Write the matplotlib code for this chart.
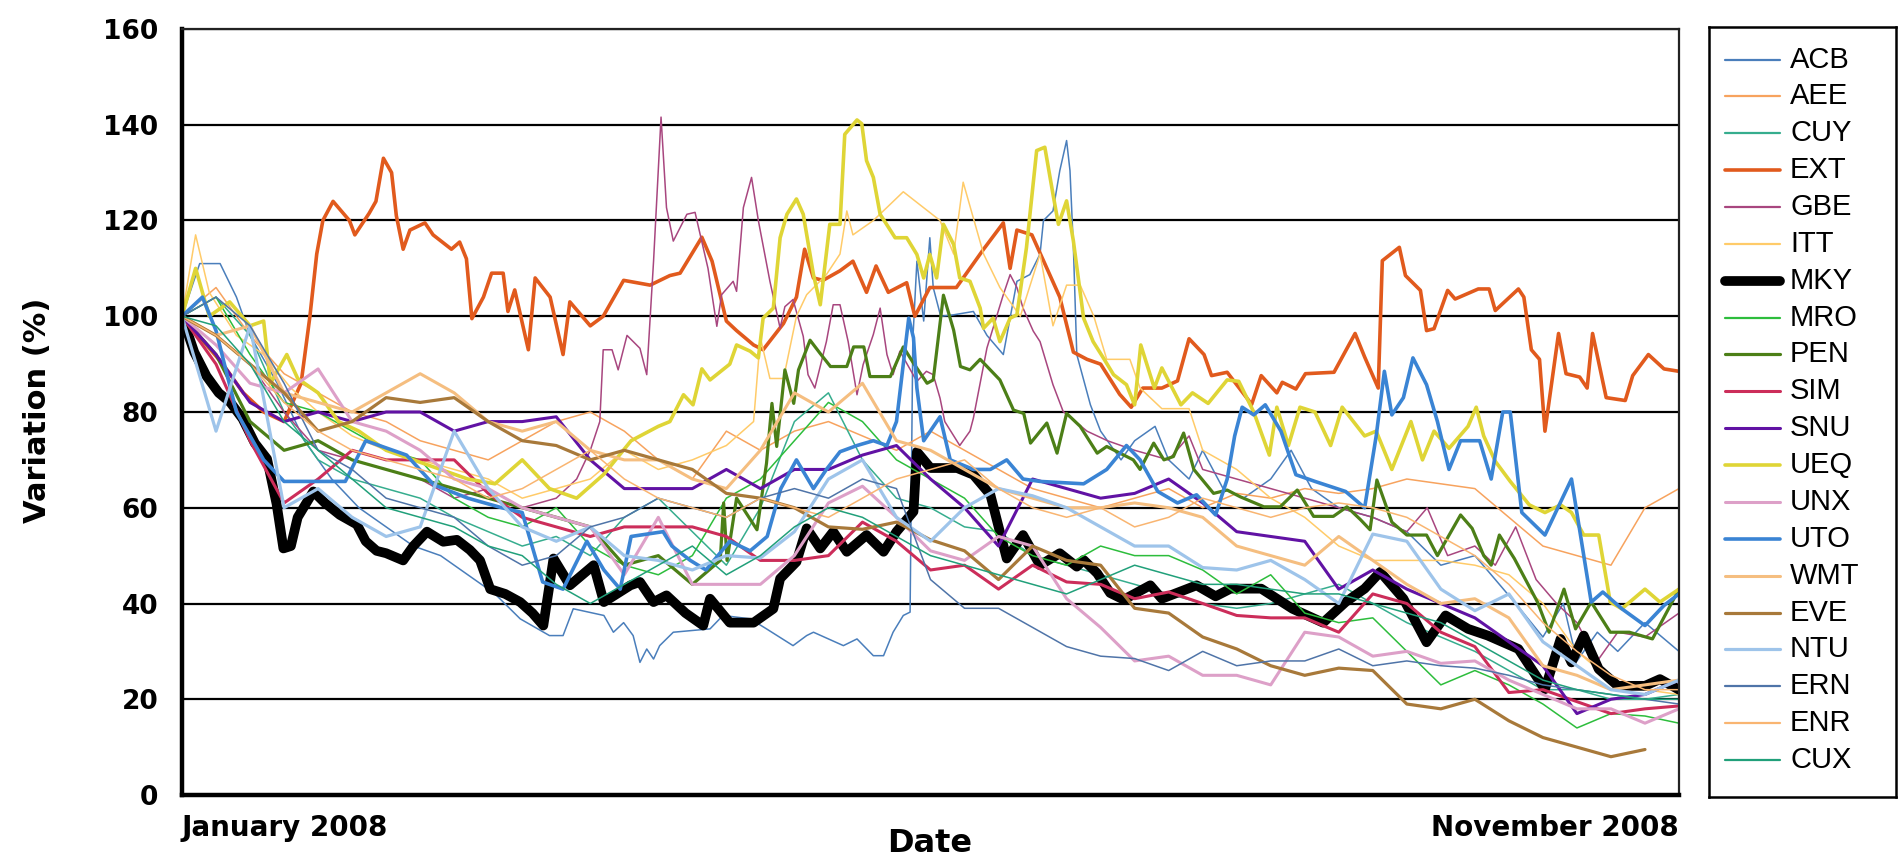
import numpy as np
import matplotlib.pyplot as plt

# Trading-day index from early January (0) to late November 2008 (220)
days = np.arange(0, 221, 5)

# --- series ----------------------------------------------------------------
# irregular series keep their own day breakpoints
acb_days = [0, 2.6, 5.6, 8, 10, 14, 18, 22, 26, 30, 34, 38, 42, 46, 49.7, 54, 56, 57.5, 62, 63.4,
            64.9, 66.3, 67.3, 68.3, 69.3, 70.2, 72.2, 77.6, 79.5, 83.5, 85.9, 89.8, 91.8, 92.8, 97.2, 99.2,
            101.6, 103.1, 104.5, 106, 107, 107.4, 108, 109, 109.9, 110.4, 111.5, 113.4, 116.3, 118.3,
            120.7, 122.7, 124.6, 126.1, 126.6, 128, 129, 130, 130.5, 131, 131.5, 133.5, 135, 138, 140,
            143, 145, 148, 150, 153, 156, 160, 163, 166, 170, 175, 180, 185, 190, 193, 196, 200, 203,
            205, 208, 211, 215, 220]
acb = [100, 111, 111, 104, 96, 86, 74, 66, 60, 56, 52, 50, 46, 42, 36.8, 33.3, 33.3, 38.9, 37.5, 34,
       36, 33.3, 27.7, 30.5, 28.4, 31.2, 34, 34.7, 37.5, 36.8, 34.7, 31.2, 33.3, 34, 31.2, 32.6,
       29.1, 29.1, 34, 37.5, 38.2, 95, 111.5, 99, 116.4, 106, 100, 100.3, 101, 96,
       92, 107.3, 108.7, 113, 120, 122, 130.4, 136.7, 130.4, 114.3, 92, 81.5, 76, 70, 74,
       77, 70, 66, 72, 64, 62, 66, 72, 64, 60, 58, 55, 48, 50, 45, 40, 33, 40,
       28, 34, 30, 36, 30]

ext_days = [0, 3, 6, 9, 12, 15, 17.5, 18.8, 19.8, 20.7, 22.2, 24.6, 25.4, 27.5, 28.5, 29.6, 30.8, 31.5,
            32.5, 33.5, 35.7, 36.9, 39.6, 40.8, 41.8, 42.6, 44.3, 45.5, 47.2, 47.9, 48.9, 50.9, 51.9,
            54.1, 56, 57, 60, 61.9, 64.9, 68.8, 71.7, 73.2, 76.4, 77.9, 80, 81.5, 84, 85.4, 88.4, 90.3,
            91.5, 92.8, 94.2, 96.7, 98.6, 100.6, 102, 103.8, 106.5, 107.7, 109.9, 113.8, 117.8, 120.7,
            121.7, 122.7, 124.9, 129, 131, 133, 135, 137.8, 139.5, 141.2, 144, 146.3, 148, 150.2, 151.3,
            153.6, 157.2, 158.6, 160.9, 161.7, 163.7, 165.1, 169.3, 172.4, 173.8, 175.8, 176.4, 178.9,
            179.8, 182, 182.9, 184, 186, 187.1, 190.5, 192.1, 193, 196.4, 197.2, 198.3, 199.5, 200.3,
            202.3, 203.4, 205.4, 206.5, 207.3, 209.3, 212.1, 213.2, 215.5, 217.8, 220]
ext = [100, 95, 90, 84, 80, 78, 86, 100, 113, 120, 124, 120, 117, 121.5, 124, 133, 130, 121,
       114, 118, 119.5, 117, 114, 115.5, 112, 99.5, 104, 109, 109, 101, 105.5, 93, 108,
       104, 92, 103, 98, 100, 107.5, 106.5, 108.5, 109, 116.5, 111.5, 99, 97, 94, 93, 98.5, 104,
       114, 108, 107.5, 109.5, 111.5, 105, 110.5, 105, 107, 100, 106, 106, 114, 119.5,
       110, 118, 117, 104, 92.5, 91, 90, 83.7, 81, 85, 85, 86.5, 95.3, 92, 87.6,
       88.3, 81.6, 87.6, 84, 86.2, 84.8, 88, 88.3, 96.4, 91.5, 85, 111.6, 114.4,
       108.5, 105.4, 97, 97.4, 105.4, 103.6, 105.7, 105.7, 101.2, 105.7, 104, 93, 91, 76,
       96.4, 88, 87.3, 85, 96.4, 83, 82.4, 87.6, 92, 89, 88.5]

gbe_days = [0, 5, 10, 15, 20, 25, 30, 35, 40, 45, 50, 55, 58, 60, 61.4, 61.9, 63.2, 64.1, 65.4, 67.3,
            68.3, 69.3, 70.4, 71.2, 72.2, 74.2, 75.4, 77.3, 78.6, 79.3, 81, 81.5, 82.5, 83.7, 84.7,
            86.4, 87.9, 88.6, 89.8, 91.3, 92, 93, 94.7, 95.7, 96.7, 97.9, 99.2, 100.1, 101.6, 102.6,
            103.6, 104.5, 105.5, 108, 109.4, 110.4, 111.4, 112.1, 114.3, 115.8, 116.3, 118.3, 120.7,
            121.7, 122.7, 123.6, 125.1, 126.1, 128, 129.5, 133, 136, 140, 145, 148, 150, 155, 160,
            165, 170, 175, 180, 183, 186, 190, 193, 196, 199, 202, 205, 208, 211, 215, 220]
gbe = [100, 96, 90, 80, 72, 70, 68, 66, 62, 64, 60, 62, 66, 72, 78, 93, 93, 88.8, 96, 93.3,
       87.8, 111.5, 141.6, 122.7, 115.7, 121.3, 121.7, 110, 97.9, 104.5, 107.3, 105.2, 122.7, 129, 120,
       107.3, 97.5, 102, 103.5, 95.8, 87.8, 85, 94.7, 102.4, 102.4, 94.7, 83.6, 89.9, 96.2, 101.7,
       92, 87.8, 92.7, 86.4, 88.5, 87.8, 82.9, 78, 73, 76, 78.7, 93.4, 104.5,
       108.7, 106, 101.7, 96.9, 94.7, 85.7, 80.1, 76, 74, 72, 70, 75, 68, 66, 64,
       62, 60, 58, 55, 60, 50, 52, 48, 56, 45, 40, 36, 28, 34, 33, 38]

itt_days = [0, 2, 4, 8, 12, 16, 20, 25, 30, 35, 40, 45, 50, 55, 60, 65, 70, 75, 80, 84, 85, 86.4,
            88.4, 90.3, 91.8, 94.7, 96.7, 97.7, 98.6, 101.6, 106, 111.4, 113.4, 114.8, 116.3, 117.8,
            120.2, 123.2, 126.1, 128, 130, 132, 134, 135.9, 139.3, 140.8, 144, 148, 150, 155, 160,
            165, 170, 175, 180, 185, 190, 195, 200, 205, 210, 215, 220]
itt = [100, 117, 105, 96, 92, 85, 80, 75, 72, 70, 68, 66, 62, 64, 66, 72, 68, 70, 73, 78, 95.5, 87,
       87, 100, 104.5, 108.7, 113, 122, 117, 120, 126, 120, 113, 128, 120.5, 113,
       106, 100, 113, 98, 106.5, 106.5, 100, 91, 91, 85, 80.7, 80.7, 72, 68, 62,
       58, 52, 49, 49, 49, 48, 46, 40, 30, 24, 22, 21]

mky_days = [0, 1.8, 3.6, 5.4, 7.1, 8.9, 10.7, 12.5, 13.9, 14.9, 16, 17, 19.3, 21, 23.2, 25.7, 27, 28.6,
            30, 32.5, 34, 36, 38.4, 40.4, 42.3, 43.8, 45.3, 47.5, 49.7, 51.5, 53.1, 54.6, 57, 60.5, 62,
            65.9, 67.3, 69.3, 71.2, 74, 76.6, 77.6, 80.5, 84, 86.9, 87.9, 90.3, 91.8, 93.8, 95.7,
            97.7, 100.6, 103.1, 105, 107.5, 108, 110, 113.9, 116.3, 118.8, 121.2, 123.6, 126.1, 129,
            131.5, 132.5, 134.5, 136.4, 138.4, 142.3, 144, 149.1, 151.9, 154.1, 158.6, 163.2, 167.7,
            171, 173.8, 176.1, 179.5, 182.9, 185.7, 189, 191.9, 196.4, 200.3, 202.6, 204.2, 206,
            208.2, 211, 215, 217.2, 220]
mky = [100, 92.5, 87.5, 84, 82, 78.6, 73.5, 70.2, 60.8, 51.5, 52, 58, 63.4, 61, 58.5, 56.5, 53, 51,
       50.5, 49, 52, 55, 52.9, 53.3, 51.2, 49, 43, 42, 40.3, 38, 35.4, 49.4, 43.8, 48, 40.3,
       43.8, 44.5, 40.3, 41.7, 38, 35.4, 41, 36, 36, 38.9, 45.2, 48.7, 55.7, 51.5, 55,
       50.8, 54.3, 50.8, 55, 59.2, 71.7, 68.3, 68.3, 66.9, 62.7, 49.4, 54.3, 48, 50.5,
       47.7, 49.1, 46.3, 42.2, 40.8, 43.8, 41, 43.8, 41.5, 43.1, 43.1, 38.9, 36,
       40.3, 43.1, 46.6, 41, 31.9, 37.5, 34.7, 33.3, 30.5, 22.1, 32.6, 27.7, 33.3,
       26.3, 22.8, 22.8, 24.2, 22]

pen_days = [0, 5, 10, 15, 20, 25, 30, 35, 40, 45, 50, 55, 60, 65, 70, 75, 79.1, 79.6, 80.1, 81.5,
            84.5, 85.9, 86.7, 87.4, 88.6, 89.9, 90.6, 92.3, 93.8, 95.3, 97.7, 98.7, 100.2, 101.1,
            104.1, 106, 107.5, 109.5, 110.4, 111.9, 113.4, 114.4, 115.8, 117.3, 120.2, 122.2, 123.7,
            124.7, 127.1, 128.6, 130, 132, 134.5, 135.9, 139.8, 140.8, 142.8, 144.3, 145.7, 147.2,
            148.7, 151.6, 153.6, 155.5, 159, 161.4, 163.9, 166.3, 169.2, 171.2, 173.2, 174.6, 175.6,
            177.8, 180, 182.9, 184.5, 187.9, 189.6, 191.3, 192.4, 193.6, 195.8, 199.2, 200.9, 203.1,
            204.8, 207.1, 209.9, 212.7, 216.1, 220]
pen = [100, 92, 78, 72, 74, 70, 68, 66, 64, 62, 60, 58, 56, 48, 50, 44, 49, 61, 49, 62,
       55.4, 69.3, 81.8, 72.8, 88.8, 81.8, 88.8, 95, 92.2, 89.5, 89.5, 93.6, 93.6, 87.4,
       87.4, 93.6, 90.2, 86, 86.7, 104.4, 97.1, 89.5, 88.8, 91, 86.7, 80.4, 79.7,
       73.5, 77.7, 71.4, 79.7, 77, 71.4, 72.8, 70, 68, 73.5, 70, 70.7, 75.6,
       68, 63, 63.7, 62.3, 60.2, 60.2, 63.7, 58.2, 58.2, 60.2, 57.5, 55.4, 65.8,
       57, 54.3, 54.3, 50, 58.5, 55.7, 50, 48, 54.3, 49.4, 40.3, 34, 43,
       34.7, 40.3, 34, 34, 32.6, 43]

ueq_days = [0, 2, 4, 7, 10, 12, 13, 15.4, 17, 20, 23, 26, 30, 34, 38, 42, 46, 50, 54, 58, 62, 66, 70,
            71.7, 73.7, 75.1, 76.4, 77.6, 80.5, 81.5, 83.5, 84.7, 85.4, 86.9, 87.9, 88.9, 90.3, 91.3,
            92.8, 93.8, 95.2, 96.7, 97.4, 99.2, 99.9, 100.6, 101.6, 102.6, 104.8, 106.5, 108, 109,
            109.9, 110.9, 111.9, 113.4, 114.3, 115.8, 117.3, 117.8, 119.2, 120.2, 121.7, 122.7, 124.1,
            125.6, 126.8, 128, 128.8, 130, 131, 132.5, 133.9, 135.4, 136.9, 138.8, 140, 140.9, 142.9,
            144, 146.8, 148.5, 150.8, 153.6, 155.3, 157.5, 159.8, 160.9, 162.6, 164.3, 166.5, 168.8,
            170.5, 173.8, 175.5, 177.8, 180.6, 182.3, 184, 186.2, 189, 190.2, 191.3, 193, 195.2, 198,
            200.3, 202.6, 204.2, 206, 208.2, 209.9, 211.6, 215, 217.2, 220]
ueq = [100, 110, 100, 103, 98, 99, 86, 92, 87, 84, 78, 76, 72, 70, 68, 66, 65, 70, 64, 62, 67, 74, 77,
       78, 83.6, 81.5, 89, 86.7, 90, 94, 92.7, 91.3, 99.6, 101.7, 116.4, 121.3, 124.5, 121.3,
       108.7, 102.4, 119.2, 119.2, 138, 141, 140.2, 132.5, 129, 121.3, 116.4, 116.4, 112.9, 108,
       112.9, 108, 119.2, 115, 108, 107.3, 101.7, 97.5, 99.6, 94.7, 99.6, 100.3, 114.3,
       134.6, 135.3, 125.5, 119.2, 124.1, 115.7, 99.6, 94.7, 91.3, 87.8, 85.7, 81.5, 94, 85,
       89.2, 81.5, 84, 81.8, 86.7, 86.4, 80, 71, 81, 73, 81, 80, 73,
       81, 75, 76, 68, 78, 70, 76, 72.4, 77, 81, 75, 69.7, 65.5, 60.6,
       59, 60.6, 59, 54.3, 54.3, 40.3, 38.9, 43, 40.3, 43]

uto_days = [0, 3, 5, 8, 12, 15, 24, 27, 33, 37, 42, 47, 50, 53, 56, 59.5, 62, 64.4, 66, 70.7, 72,
            74.7, 77, 80.5, 83.5, 86, 88, 90.3, 92.8, 94.7, 96.7, 99.2, 101.6, 103.6, 105, 106, 106.8,
            107.5, 108, 109, 111.4, 112.9, 116.3, 118.8, 121.2, 123.6, 126.1, 132.5, 135.9, 138.8,
            140.8, 143.4, 146.3, 149.1, 151.9, 153.6, 154.7, 155.8, 157.5, 159.2, 161.5, 163.7, 166.5,
            171, 173.8, 175.5, 176.7, 177.8, 179.5, 180.9, 182.9, 184.5, 186.2, 187.9, 190.7, 192.4,
            194.1, 195.2, 196.9, 200.3, 204.2, 207.1, 208.8, 211.6, 215, 217.8, 220]
uto = [100, 104, 97, 80, 70, 65.5, 65.5, 74, 71, 64.8, 62, 60, 59, 44.5, 43, 53, 47, 43, 54, 55, 52,
       49, 47, 53, 51, 54, 64, 70, 64, 68, 71.7, 73, 74, 73, 78, 90, 99.6,
       95.5, 85, 74, 79, 70, 68, 68, 70, 66, 65.5, 65, 68, 73,
       70, 63.4, 61, 62.7, 58.5, 66, 75, 81, 79.4, 81.5, 76, 66.9, 65.5,
       63.4, 60, 75, 88.5, 79.4, 83, 91.3, 85.7, 78, 68, 74, 74, 66,
       80, 80, 59, 54.3, 66, 40.3, 42.4, 38.9, 35.4, 39.6, 42]

# tangled series on the regular 5-day grid
aee = [100, 106, 96, 88, 84, 80, 78, 74, 72, 70, 74, 78, 80, 76, 70, 66, 76, 72, 76, 78,
       75, 72, 76, 72, 68, 64, 62, 60, 62, 64, 60, 63, 62, 64, 63, 64, 66, 65, 64, 58,
       52, 50, 48, 60, 64]
cuy = [100, 104, 96, 80, 70, 66, 64, 62, 58, 55, 52, 54, 50, 58, 62, 55, 48, 60, 78, 84,
       70, 62, 60, 56, 55, 50, 48, 46, 44, 42, 40, 39, 40, 42, 44, 40, 36, 33, 30, 26,
       22, 22, 20, 20, 21]
mro = [100, 104, 92, 82, 80, 76, 72, 70, 62, 58, 56, 60, 52, 48, 46, 50, 62, 66, 74, 82,
       78, 70, 66, 62, 54, 50, 48, 52, 50, 50, 47, 42, 46, 38, 36, 37, 30, 23, 26, 23,
       19, 14, 17, 16.5, 15]
sim = [100, 90, 74, 61, 66, 72, 70, 70, 70, 63, 58, 56, 54, 56, 56, 56, 54, 49, 49, 50,
       57, 53, 47, 48, 43, 48, 44.5, 44, 41, 42.4, 40, 37.5, 37, 37, 34, 42, 40, 34, 31, 21.4,
       22, 19.5, 17, 18, 18.6]
snu = [100, 92, 82, 78, 80, 78, 80, 80, 76, 78, 78, 79, 70, 64, 64, 64, 68, 64, 68, 68,
       71, 73, 66, 60, 52, 66, 64, 62, 63, 66, 61, 55, 54, 53, 43, 47, 43, 40, 37, 32,
       27, 17, 20, 21, 24]
unx = [100, 94, 86, 84, 89, 78, 76, 72, 66, 64, 60, 58, 56, 46, 58, 44, 44, 44, 50, 61,
       64.5, 58, 51, 49, 54, 52, 41, 35, 28, 29, 25, 25, 23, 34, 33, 29, 30, 27.5, 28, 24,
       21, 18, 18, 15, 18]
wmt = [100, 96, 98, 84, 82, 80, 84, 88, 84, 78, 76, 78, 72, 70, 70, 66, 64, 72, 84, 80,
       86, 74, 72, 68, 64, 62, 60, 60, 61, 60, 58, 52, 50, 48, 54, 49, 44, 40, 41, 37,
       27, 25, 22, 23, 24]
eve = [100, 96, 90, 84, 76, 78, 83, 82, 83, 78, 74, 73, 70, 72, 70, 68, 63, 62, 60, 56,
       55.5, 57, 53.3, 51, 45, 52, 49, 48, 39, 38, 33, 30.5, 27, 25, 26.5, 26, 19, 18, 20, 15.5,
       12, 10, 8, 9.5, np.nan]
ntu = [100, 76, 98, 60, 64, 58, 54, 56, 76, 64, 56, 53, 56, 50, 49, 47, 50, 49.5, 55, 66,
       70, 58, 53, 60, 64, 62.5, 60, 56, 52, 52, 47.5, 47, 49, 45, 40, 54.5, 53, 43, 38.5, 42,
       32, 27, 22, 21, 24]
ern = [100, 104, 98, 86, 72, 68, 62, 60, 58, 52, 48, 50, 56, 58, 62, 60, 58, 62, 64, 62,
       66, 64, 45, 39, 39, 35, 31, 29, 28.5, 26, 30, 27, 28, 28, 30.5, 27, 28, 27, 26.5, 25,
       23, 22, 21, 20, 19]
enr = [100, 96, 90, 82, 76, 72, 70, 68, 66, 62, 64, 68, 72, 66, 62, 60, 58, 62, 60, 58,
       62, 66, 68, 70, 64, 60, 58, 60, 56, 58, 62, 60, 58, 60, 61, 60, 58, 54, 50, 44,
       36, 30, 25, 22, 22]
cux = [100, 98, 90, 78, 72, 66, 60, 58, 56, 52, 50, 44, 40, 44, 48, 52, 46, 50, 56, 60,
       58, 54, 50, 48, 46, 44, 42, 45, 48, 46, 44, 44, 43, 42, 42, 40, 38, 36, 32, 28,
       24, 22, 21, 20, 20]

# name, x, y, colour, line width (pt)
series = [
    ("ACB", acb_days, acb, "#4A7EBB", 1.1),
    ("AEE", days, aee, "#F7A35E", 1.1),
    ("CUY", days, cuy, "#36AD8E", 1.1),
    ("EXT", ext_days, ext, "#E15A1D", 2.6),
    ("GBE", gbe_days, gbe, "#A8467F", 1.1),
    ("ITT", itt_days, itt, "#FFCB69", 1.1),
    ("MKY", mky_days, mky, "#000000", 7.0),
    ("MRO", days, mro, "#2DBD3C", 1.1),
    ("PEN", pen_days, pen, "#4C7F17", 2.3),
    ("SIM", days, sim, "#CC2D5A", 2.2),
    ("SNU", days, snu, "#6112A4", 2.2),
    ("UEQ", ueq_days, ueq, "#DFD536", 2.6),
    ("UNX", days, unx, "#DDA0C8", 2.2),
    ("UTO", uto_days, uto, "#3A84D4", 2.6),
    ("WMT", days, wmt, "#F5BE80", 2.2),
    ("EVE", days, eve, "#A8793A", 2.3),
    ("NTU", days, ntu, "#9EC4EA", 2.3),
    ("ERN", days, ern, "#4F74A8", 1.1),
    ("ENR", days, enr, "#F9B571", 1.1),
    ("CUX", days, cux, "#21A07A", 1.1),
]

W, H = 1903, 864
fig = plt.figure(figsize=(W / 100, H / 100), dpi=100)
ax = fig.add_axes([182 / W, 69 / H, 1497 / W, 766 / H])

for name, x, y, c, lw in series:
    ax.plot(x, y, color=c, lw=lw, solid_joinstyle="round", solid_capstyle="round")

ax.set_xlim(0, 220)
ax.set_ylim(0, 160)
ax.set_yticks(range(0, 161, 20))
ax.yaxis.grid(True, color="black", lw=1.6)
ax.set_axisbelow(True)
ax.tick_params(axis="y", length=0, pad=17, labelsize=19)
for lab in ax.get_yticklabels():
    lab.set_fontweight("bold")

ax.set_xticks([0, 220])
ax.set_xticklabels(["January 2008", "November 2008"], fontsize=20, fontweight="bold")
ax.tick_params(axis="x", length=0, pad=14)
xl = ax.get_xticklabels()
xl[0].set_horizontalalignment("left")
xl[1].set_horizontalalignment("right")

for side in ["left", "bottom"]:
    ax.spines[side].set_linewidth(3.2)
for side in ["top", "right"]:
    ax.spines[side].set_linewidth(1.6)
    ax.spines[side].set_color("#222222")

fig.text(930 / W, 1 - 843 / H, "Date", ha="center", va="center", fontsize=23, fontweight="bold")
fig.text(38 / W, 1 - 410 / H, "Variation (%)", ha="center", va="center", rotation=90,
         fontsize=22, fontweight="bold")

# legend box drawn as its own panel
lax = fig.add_axes([1709 / W, (H - 797) / H, 187 / W, 770 / H])
lax.set_xlim(0, 187)
lax.set_ylim(770, 0)
lax.set_xticks([])
lax.set_yticks([])
for s in lax.spines.values():
    s.set_linewidth(1.8)
for i, (name, x, y, c, lw) in enumerate(series):
    yy = 32.5 + i * 36.87
    lax.plot([16, 71], [yy, yy], color=c, lw=max(lw, 1.6), solid_capstyle="round")
    lax.text(81, yy, name, va="center", ha="left", fontsize=21,
             family=["Liberation Sans", "DejaVu Sans"])

fig.savefig("out.png", dpi=100)
